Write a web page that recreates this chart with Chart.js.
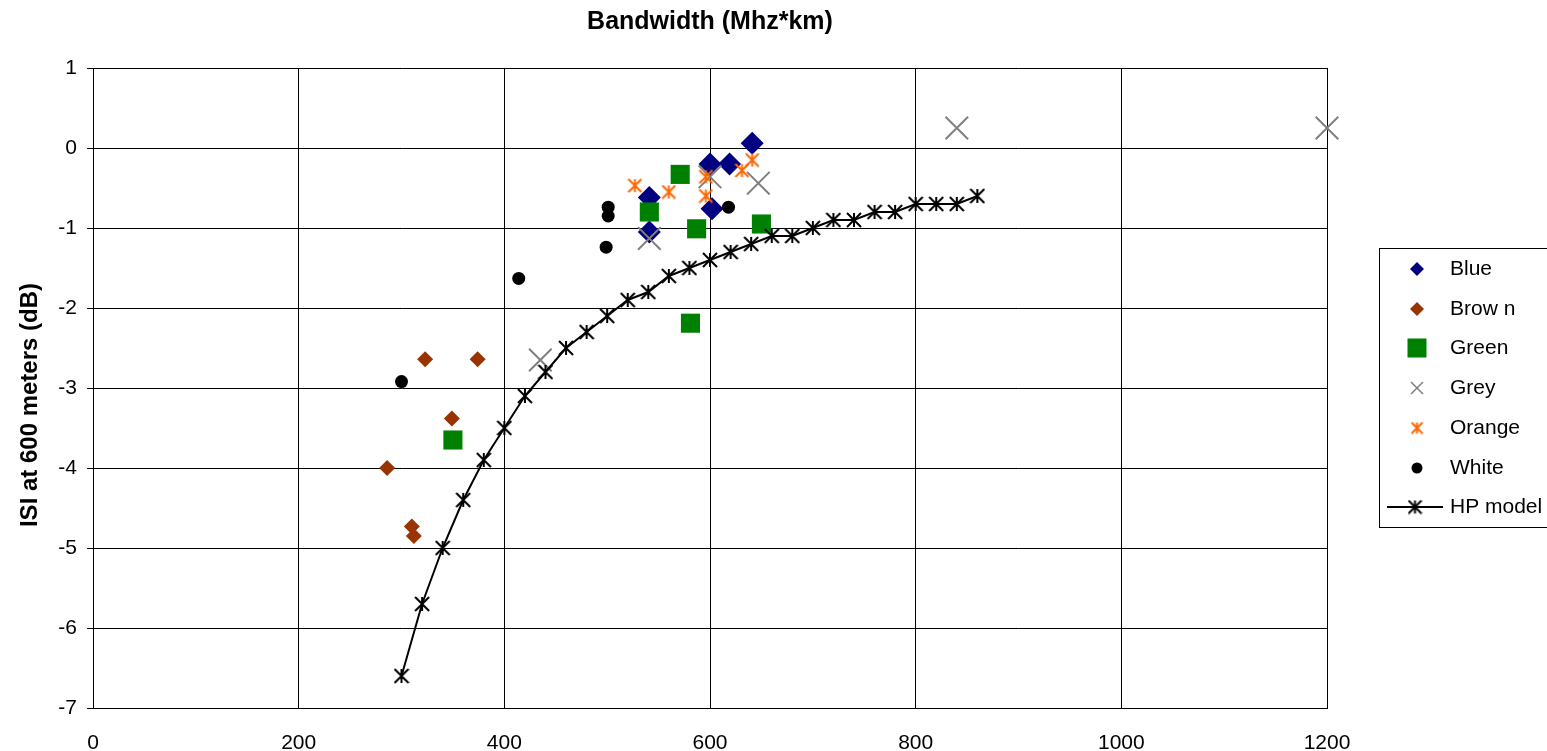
<!DOCTYPE html>
<html lang="en">
<head>
<meta charset="UTF-8">
<title>Bandwidth vs ISI</title>
<style>
  html, body { margin: 0; padding: 0; background: #fff; }
  #wrap { position: relative; width: 1547px; height: 751px; }
</style>
</head>
<body>
<div id="wrap"><canvas id="chart" width="1547" height="751"></canvas></div>
<script src="https://cdn.jsdelivr.net/npm/chart.js@4.4.1/dist/chart.umd.min.js"></script>
<script>
// measured points, bandwidth (MHz*km) vs ISI (dB)
const blueX = [541, 541, 600, 602, 619, 641];
const blueY = [-1.05, -0.62, -0.2, -0.76, -0.2, 0.06];
const brownX = [286, 310, 312, 323, 349, 374];
const brownY = [-4.0, -4.73, -4.85, -2.64, -3.38, -2.64];
const greenX = [350, 541, 571, 581, 587, 650];
const greenY = [-3.65, -0.8, -0.33, -2.19, -1.01, -0.95];
const greyX = [435, 541, 600, 647, 840, 1200];
const greyY = [-2.65, -1.13, -0.36, -0.44, 0.25, 0.25];
const orangeX = [527, 560, 596, 596, 631, 641];
const orangeY = [-0.47, -0.55, -0.36, -0.6, -0.28, -0.15];
const whiteX = [300, 414, 499, 501, 501, 618];
const whiteY = [-2.92, -1.63, -1.24, -0.74, -0.85, -0.74];
const hpX = [300, 320, 340, 360, 380, 400, 420, 440, 460, 480, 500, 520, 540, 560, 580,
             600, 620, 640, 660, 680, 700, 720, 740, 760, 780, 800, 820, 840, 860];
const hpY = [-6.6, -5.7, -5.0, -4.4, -3.9, -3.5, -3.1, -2.8, -2.5, -2.3, -2.1, -1.9, -1.8, -1.6, -1.5,
             -1.4, -1.3, -1.2, -1.1, -1.1, -1.0, -0.9, -0.9, -0.8, -0.8, -0.7, -0.7, -0.7, -0.6];

const FONT = '"Liberation Sans", Arial, sans-serif';
const Y_TITLE = 'ISI at 600 meters (dB)';
const pts = (xs, ys) => xs.map((x, i) => ({ x: x, y: ys[i] }));

// excel-style asterisk: vertical bar + X
function asterisk(color, size, lw) {
  const c = document.createElement('canvas');
  c.width = size; c.height = size;
  const g = c.getContext('2d');
  const m = size / 2, r = size / 2 - lw / 2;
  g.strokeStyle = color; g.lineWidth = lw;
  g.beginPath();
  g.moveTo(m, m - r); g.lineTo(m, m + r);
  g.moveTo(m - r, m - r); g.lineTo(m + r, m + r);
  g.moveTo(m - r, m + r); g.lineTo(m + r, m - r);
  g.stroke();
  return c;
}

const orangeStar = asterisk('#FF6600', 15, 2);
const blackStar = asterisk('#000000', 16, 2);
const orangeStarSmall = asterisk('#FF6600', 13, 2);
const blackStarSmall = asterisk('#000000', 15, 2);

// legend drawn by hand so it can sit where excel put it
const legendMarks = [
  { kind: 'diamond', color: '#000080', r: 7 },
  { kind: 'diamond', color: '#993300', r: 7 },
  { kind: 'square', color: '#008000', r: 9.5 },
  { kind: 'x', color: '#808080', r: 6 },
  { kind: 'img', img: orangeStarSmall },
  { kind: 'circle', color: '#000000', r: 5.5 },
  { kind: 'line', img: blackStarSmall }
];

const legendBox = {
  id: 'legendBox',
  afterDraw(chart) {
    const ctx = chart.ctx;
    ctx.save();
    ctx.strokeStyle = '#000';
    ctx.lineWidth = 1;
    ctx.strokeRect(1379.5, 248.5, 220, 279);
    ctx.font = '21px ' + FONT;
    ctx.textBaseline = 'middle';
    ctx.textAlign = 'left';
    chart.data.datasets.forEach((ds, i) => {
      const y = Math.round(269 + i * 39.7);
      const x = 1417;
      const m = legendMarks[i];
      ctx.fillStyle = m.color || '#000';
      ctx.strokeStyle = m.color || '#000';
      ctx.beginPath();
      if (m.kind === 'diamond') {
        ctx.moveTo(x, y - m.r); ctx.lineTo(x + m.r, y); ctx.lineTo(x, y + m.r); ctx.lineTo(x - m.r, y);
        ctx.closePath(); ctx.fill();
      } else if (m.kind === 'square') {
        ctx.fillRect(x - m.r, y - m.r, 2 * m.r, 2 * m.r);
      } else if (m.kind === 'x') {
        ctx.lineWidth = 1.5;
        ctx.moveTo(x - m.r, y - m.r); ctx.lineTo(x + m.r, y + m.r);
        ctx.moveTo(x - m.r, y + m.r); ctx.lineTo(x + m.r, y - m.r);
        ctx.stroke();
      } else if (m.kind === 'circle') {
        ctx.arc(x, y, m.r, 0, Math.PI * 2); ctx.fill();
      } else if (m.kind === 'img') {
        ctx.drawImage(m.img, x - m.img.width / 2, y - m.img.height / 2);
      } else if (m.kind === 'line') {
        ctx.strokeStyle = '#000'; ctx.lineWidth = 2;
        ctx.moveTo(1387, y); ctx.lineTo(1443, y); ctx.stroke();
        ctx.drawImage(m.img, 1415 - m.img.width / 2, y - m.img.height / 2);
      }
      ctx.fillStyle = '#000';
      ctx.fillText(ds.label, 1450, y);
    });

    // y axis title, sits a bit below the plot centre like in excel
    ctx.translate(30, 405);
    ctx.rotate(-Math.PI / 2);
    ctx.font = 'bold 24px ' + FONT;
    ctx.textAlign = 'center';
    ctx.fillText(Y_TITLE, 0, 0);
    ctx.restore();
  }
};

new Chart(document.getElementById('chart'), {
  type: 'scatter',
  data: {
    datasets: [
      { label: 'Blue', data: pts(blueX, blueY), order: 7, pointStyle: 'rectRot', pointRadius: 11.5,
        backgroundColor: '#000080', borderColor: '#000080', pointBorderWidth: 0 },
      { label: 'Brow n', data: pts(brownX, brownY), order: 6, pointStyle: 'rectRot', pointRadius: 8,
        backgroundColor: '#993300', borderColor: '#993300', pointBorderWidth: 0 },
      { label: 'Green', data: pts(greenX, greenY), order: 5, pointStyle: 'rect', pointRadius: 13.5,
        backgroundColor: '#008000', borderColor: '#008000', pointBorderWidth: 0 },
      { label: 'Grey', data: pts(greyX, greyY), order: 4, pointStyle: 'crossRot', pointRadius: 16,
        backgroundColor: '#808080', borderColor: '#808080', pointBorderWidth: 2, clip: false },
      { label: 'Orange', data: pts(orangeX, orangeY), order: 3, pointStyle: orangeStar,
        backgroundColor: '#FF6600', borderColor: '#FF6600' },
      { label: 'White', data: pts(whiteX, whiteY), order: 2, pointStyle: 'circle', pointRadius: 6.5,
        backgroundColor: '#000000', borderColor: '#000000', pointBorderWidth: 0 },
      { label: 'HP model', data: pts(hpX, hpY), order: 1, showLine: true, pointStyle: blackStar,
        borderColor: '#000000', backgroundColor: '#000000', borderWidth: 2 }
    ]
  },
  options: {
    responsive: false,
    animation: false,
    devicePixelRatio: 1,
    events: [],
    layout: { padding: { left: 0, right: 220, top: 0, bottom: 0 } },
    plugins: {
      legend: { display: false },
      tooltip: { enabled: false },
      title: {
        display: true,
        text: 'Bandwidth (Mhz*km)',
        fullSize: false,
        color: '#000',
        font: { family: FONT, size: 25, weight: 'bold' },
        padding: { top: 7.5, bottom: 30.5 }
      }
    },
    scales: {
      x: {
        type: 'linear',
        min: 0,
        max: 1200,
        ticks: { stepSize: 200, color: '#000', font: { family: FONT, size: 21 }, padding: 23, maxRotation: 0,
                 callback: v => String(v) },
        grid: { color: '#000', lineWidth: 1, drawTicks: false },
        border: { color: '#000', width: 1 },
        afterFit(s) { s.height = 43; }
      },
      y: {
        type: 'linear',
        min: -7,
        max: 1,
        ticks: { stepSize: 1, color: '#000', font: { family: FONT, size: 21 }, padding: 10 },
        grid: { color: '#000', lineWidth: 1, tickLength: 6 },
        border: { color: '#000', width: 1 },
        afterFit(s) { s.width = 93; }
      }
    }
  },
  plugins: [legendBox]
});
</script>
</body>
</html>
